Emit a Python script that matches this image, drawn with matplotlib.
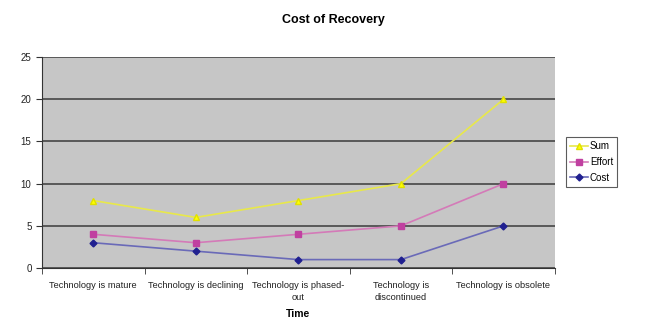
import numpy as np
import matplotlib.pyplot as plt

plt.rcParams['font.family'] = ['Liberation Sans', 'DejaVu Sans']

categories = ['Technology is mature', 'Technology is declining',
              'Technology is phased-\nout', 'Technology is\ndiscontinued',
              'Technology is obsolete']
sum_vals = [8, 6, 8, 10, 20]
effort = [4, 3, 4, 5, 10]
cost = [3, 2, 1, 1, 5]

fig = plt.figure(figsize=(6.66, 3.21), dpi=100)
ax = fig.add_axes([0.063, 0.165, 0.77, 0.657])
ax.set_facecolor('#c6c6c6')
x = np.arange(len(categories))

ax.plot(x, sum_vals, color='#e8e84a', marker='^', ms=4, lw=1.2,
        markerfacecolor='#ffff00', markeredgecolor='#e0e000', label='Sum')
ax.plot(x, effort, color='#d47ab8', marker='s', ms=4, lw=1.2,
        markerfacecolor='#c040a0', markeredgecolor='#c040a0', label='Effort')
ax.plot(x, cost, color='#6a6ab8', marker='D', ms=3.5, lw=1.2,
        markerfacecolor='#202090', markeredgecolor='#202090', label='Cost')

ax.set_xlim(-0.5, 4.5)
ax.set_ylim(0, 25)
ax.set_yticks([0, 5, 10, 15, 20, 25])
ax.yaxis.grid(True, color='#505050', lw=1.3)
ax.set_axisbelow(True)
ax.set_xticks(x)
ax.set_xticklabels(categories, fontsize=6.7, color='#222222', linespacing=1.5)
ax.tick_params(axis='x', length=0, pad=9)
ax.set_xticks(np.arange(-0.5, 5, 1), minor=True)
ax.tick_params(axis='x', which='minor', length=4, direction='out', color='#333333')
ax.tick_params(axis='y', labelsize=7, length=4, color='#333333', labelcolor='#222222')
for s in ['top', 'right']:
    ax.spines[s].set_visible(False)
for s in ['left', 'bottom']:
    ax.spines[s].set_color('#333333')

ax.set_xlabel('Time', fontsize=7.5, fontweight='bold', labelpad=5)
fig.suptitle('Cost of Recovery', fontsize=9, fontweight='bold', y=0.955)

leg = ax.legend(loc='upper left', bbox_to_anchor=(1.022, 0.62), fontsize=7,
                frameon=True, fancybox=False, edgecolor='#333333',
                handlelength=1.9, borderpad=0.4, labelspacing=0.6, handletextpad=0.15,
                borderaxespad=0)
leg.get_frame().set_linewidth(0.8)

plt.savefig('out.png', dpi=100)
